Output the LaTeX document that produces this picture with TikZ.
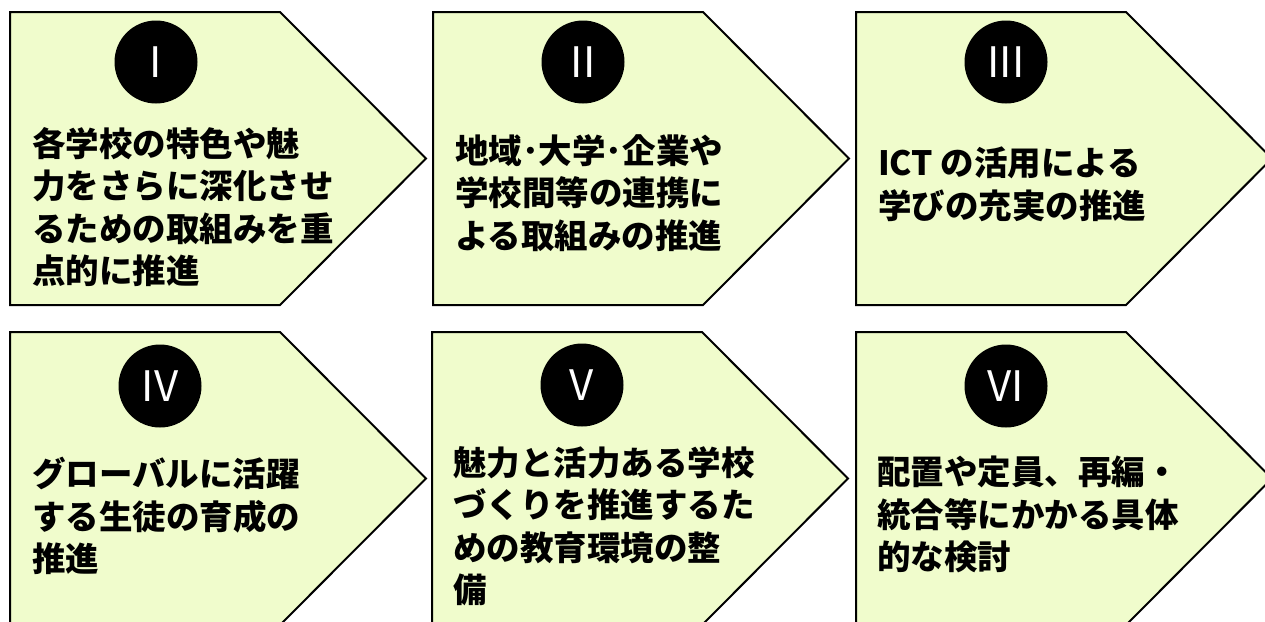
\documentclass[tikz,border=0pt]{standalone}
\usepackage{fontspec}
\newfontfamily\jp{Noto Sans CJK JP}
\definecolor{panelfill}{RGB}{240,252,204}
\tikzset{
  panel/.style={draw=black, line width=2pt, fill=panelfill, line join=miter},
  numdisc/.style={circle, fill=black, minimum size=83pt, inner sep=0pt, text=white,
    font=\jp\fontsize{42}{42}\selectfont},
  boxtext/.style={anchor=north west, inner sep=0pt, align=left,
    font=\jp\bfseries\fontsize{33.5}{42.5}\selectfont}
}
\newcommand\panelshape[2]{%
  \draw[panel] (#1,#2) -- ++(270,0) -- ++(146,146.5) -- ++(-146,146.5) -- ++(-270,0) -- cycle;}
\begin{document}
\begin{tikzpicture}[x=1pt,y=-1pt]
\useasboundingbox (0,0) rectangle (1265,621);
\clip (0,0) rectangle (1265,621);
\panelshape{10}{12}
\panelshape{433}{12}
\panelshape{856}{12}
\panelshape{10}{332}
\panelshape{432}{332}
\panelshape{856}{332}
\node[numdisc] (n1) at (156,62) {I};
\node[numdisc] (n2) at (583,62) {II};
\node[numdisc] (n3) at (1006,62) {III};
\node[numdisc] (n4) at (160,386) {IV};
\node[numdisc] (n5) at (582,385) {V};
\node[numdisc] (n6) at (1006,386) {VI};
\node[boxtext] (t1) at (32,127) {各学校の特色や魅\\力をさらに深化させ\\るための取組みを重\\点的に推進};
\node[boxtext] (t2) at (455,134) {地域･大学･企業や\\学校間等の連携に\\よる取組みの推進};
\node[boxtext] (t3) at (878,147) {ICT の活用による\\学びの充実の推進};
\node[boxtext] (t4) at (32,457) {グローバルに活躍\\する生徒の育成の\\推進};
\node[boxtext] (t5) at (453,446) {魅力と活力ある学校\\づくりを推進するた\\めの教育環境の整\\備};
\node[boxtext] (t6) at (877,456) {配置や定員、再編・\\統合等にかかる具体\\的な検討};
\end{tikzpicture}
\end{document}
